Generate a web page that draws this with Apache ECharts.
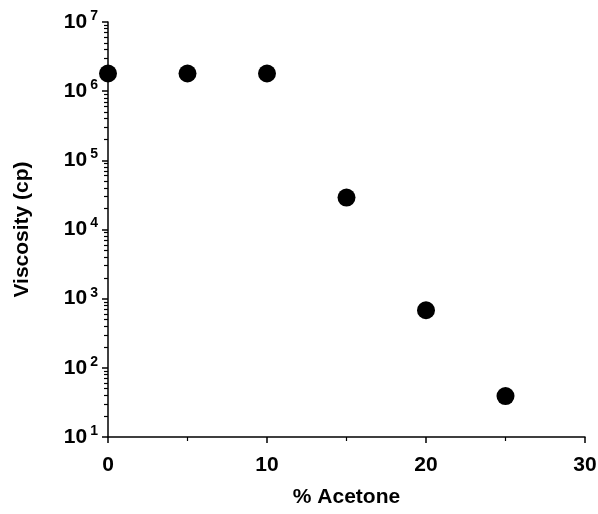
<!DOCTYPE html>
<html>
<head>
<meta charset="utf-8">
<script src="https://cdn.jsdelivr.net/npm/echarts@6/dist/echarts.min.js"></script>
<style>
  html, body { margin: 0; padding: 0; background: #fff; }
  #chart { width: 598px; height: 514px; }
</style>
</head>
<body>
<div id="chart"></div>
<script>
// % acetone vs viscosity (cp)
const acetone = [0, 5, 10, 15, 20, 25]
const viscosity = [1.8e6, 1.8e6, 1.8e6, 2.9e4, 680, 39]
const xTicks = [0, 10, 20, 30]
const yDecades = [1, 2, 3, 4, 5, 6, 7]

// minor ticks at 2..9 within every decade
const yMinor = []
yDecades.slice(0, -1).forEach(d => {
  for (let k = 2; k <= 9; k++) yMinor.push(k * Math.pow(10, d))
})

const font = 'Liberation Sans, Arial, Helvetica, sans-serif'
const chart = echarts.init(document.getElementById('chart'))

chart.setOption({
  animation: false,
  grid: { left: 108, right: 13, top: 22, bottom: 77, outerBoundsMode: 'none' },
  xAxis: {
    type: 'value',
    min: 0,
    max: 30,
    interval: 10,
    name: '% Acetone',
    nameLocation: 'middle',
    nameGap: 50,
    nameTextStyle: { color: '#000', fontSize: 21, fontWeight: 'bold', fontFamily: font },
    axisLine: { lineStyle: { color: '#000', width: 1.5 } },
    axisTick: { show: true, length: 6, lineStyle: { color: '#000', width: 1.5 } },
    minorTick: { show: true, splitNumber: 2, length: 4, lineStyle: { color: '#000', width: 1.2 } },
    axisLabel: {
      color: '#000', fontSize: 21, fontWeight: 'bold', fontFamily: font, margin: 18,
      formatter: v => xTicks.includes(v) ? String(v) : ''
    },
    splitLine: { show: false }
  },
  yAxis: [{
    type: 'log',
    logBase: 10,
    min: Math.pow(10, yDecades[0]),
    max: Math.pow(10, yDecades[yDecades.length - 1]),
    name: 'Viscosity (cp)',
    nameLocation: 'middle',
    nameGap: 75,
    nameTextStyle: { color: '#000', fontSize: 21, fontWeight: 'bold', fontFamily: font },
    axisLine: { show: true, lineStyle: { color: '#000', width: 1.5 } },
    axisTick: { show: true, length: 6, lineStyle: { color: '#000', width: 1.5 } },
    axisLabel: {
      margin: 10,
      formatter: v => '{b|10}{s|' + Math.round(Math.log10(v)) + '}',
      rich: {
        b: { color: '#000', fontSize: 21, fontWeight: 'bold', fontFamily: font },
        s: { color: '#000', fontSize: 14, fontWeight: 'bold', fontFamily: font, verticalAlign: 'top', padding: [0, 0, 12, 3] }
      }
    },
    splitLine: { show: false }
  }, {
    type: 'log',
    logBase: 10,
    min: Math.pow(10, yDecades[0]),
    max: Math.pow(10, yDecades[yDecades.length - 1]),
    position: 'left',
    axisLine: { show: false },
    axisTick: { show: true, length: 4, customValues: yMinor, lineStyle: { color: '#000', width: 1.2 } },
    axisLabel: { show: false },
    splitLine: { show: false }
  }],
  series: [{
    type: 'scatter',
    data: acetone.map((a, i) => [a, viscosity[i]]),
    symbol: 'circle',
    symbolSize: 18,
    clip: false,
    itemStyle: { color: '#000', opacity: 1 }
  }]
})
</script>
</body>
</html>
